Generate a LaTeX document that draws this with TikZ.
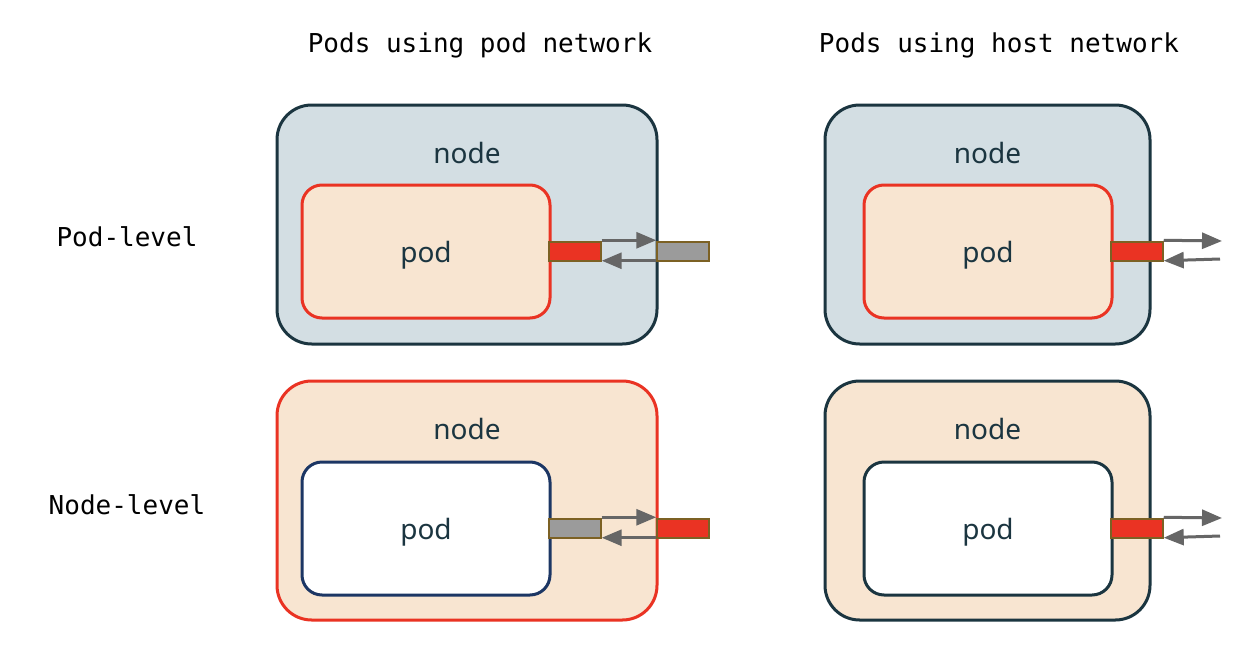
\documentclass[tikz,border=0pt]{standalone}
\usepackage{fontspec}
\newfontfamily\lblfont{Noto Sans}
\newfontfamily\monofont{DejaVu Sans Mono}
\usetikzlibrary{arrows.meta,shadows}
\definecolor{dark}{HTML}{1B3540}
\definecolor{bluegray}{HTML}{D3DEE3}
\definecolor{peach}{HTML}{F8E5D1}
\definecolor{podred}{HTML}{EA3323}
\definecolor{navy}{HTML}{1C3664}
\definecolor{olive}{HTML}{7C6124}
\definecolor{ifgray}{HTML}{9B9B9B}
\definecolor{arrowgray}{HTML}{666666}
\tikzset{
  nodebox/.style={draw, line width=2.25pt, rounded corners=26pt, minimum height=179.25pt, inner sep=0pt,
    drop shadow={shadow xshift=0.8pt, shadow yshift=-0.8pt, opacity=0.15}},
  podbox/.style={draw, line width=2.25pt, rounded corners=15pt, minimum width=186pt, minimum height=99.75pt, inner sep=0pt,
    drop shadow={shadow xshift=0.8pt, shadow yshift=-0.8pt, opacity=0.15}},
  iface/.style={draw=olive, line width=1.1pt, minimum width=39pt, minimum height=14.25pt, inner sep=0pt,
    drop shadow={shadow xshift=0.8pt, shadow yshift=-0.8pt, opacity=0.2}},
  redif/.style={iface, fill=podred},
  grayif/.style={iface, fill=ifgray},
  boxtext/.style={font=\lblfont\fontsize{21}{24}\selectfont, text=dark},
  heading/.style={font=\monofont\fontsize{19.5}{22}\selectfont, text=black},
  flow/.style={draw=arrowgray, line width=2.25pt, -{Triangle[length=15pt,width=12pt]}},
}
\begin{document}
\begin{tikzpicture}[x=0.75pt,y=-0.75pt]
\useasboundingbox[fill=white] (0,0) rectangle (1254,650);

% headings
\node[heading] (h1) at (480,45) {Pods using pod network};
\node[heading] (h2) at (999,45) {Pods using host network};
\node[heading] (r1) at (127,237) {Pod-level};
\node[heading] (r2) at (127,505) {Node-level};

% top-left
\node[nodebox, fill=bluegray, draw=dark, minimum width=285pt] (n1) at (467,224.5) {};
\node[boxtext] (n1t) at (467,153) {node};
\node[podbox, fill=peach, draw=podred] (p1) at (426,251.5) {};
\node[boxtext] (p1t) at (426,255) {pod};
\node[redif] (i1a) at (575,251.5) {};
\node[grayif] (i1b) at (683,251.5) {};
\draw[flow] ([yshift=0.75pt]i1a.north east) -- ([yshift=0.75pt]i1b.north west);
\draw[flow] ([yshift=0.75pt]i1b.south west) -- ([yshift=0.75pt]i1a.south east);

% top-right
\node[nodebox, fill=bluegray, draw=dark, minimum width=243.75pt] (n2) at (987.5,224.5) {};
\node[boxtext] (n2t) at (987.5,153) {node};
\node[podbox, fill=peach, draw=podred] (p2) at (988,251.5) {};
\node[boxtext] (p2t) at (988,255) {pod};
\node[redif] (i2a) at (1137,251.5) {};
\coordinate (o2) at (1222,241);
\coordinate (o2b) at (1220,259);
\draw[flow] ([yshift=0.75pt]i2a.north east) -- (o2);
\draw[flow] (o2b) -- ([yshift=0.75pt]i2a.south east);

% bottom-left
\node[nodebox, fill=peach, draw=podred, minimum width=285pt] (n3) at (467,500.5) {};
\node[boxtext] (n3t) at (467,429) {node};
\node[podbox, fill=white, draw=navy] (p3) at (426,528.5) {};
\node[boxtext] (p3t) at (426,532) {pod};
\node[grayif] (i3a) at (575,528.5) {};
\node[redif] (i3b) at (683,528.5) {};
\draw[flow] ([yshift=0.75pt]i3a.north east) -- ([yshift=0.75pt]i3b.north west);
\draw[flow] ([yshift=0.75pt]i3b.south west) -- ([yshift=0.75pt]i3a.south east);

% bottom-right
\node[nodebox, fill=peach, draw=dark, minimum width=243.75pt] (n4) at (987.5,500.5) {};
\node[boxtext] (n4t) at (987.5,429) {node};
\node[podbox, fill=white, draw=dark] (p4) at (988,528.5) {};
\node[boxtext] (p4t) at (988,532) {pod};
\node[redif] (i4a) at (1137,528.5) {};
\coordinate (o4) at (1222,518);
\coordinate (o4b) at (1220,536);
\draw[flow] ([yshift=0.75pt]i4a.north east) -- (o4);
\draw[flow] (o4b) -- ([yshift=0.75pt]i4a.south east);
\end{tikzpicture}
\end{document}
